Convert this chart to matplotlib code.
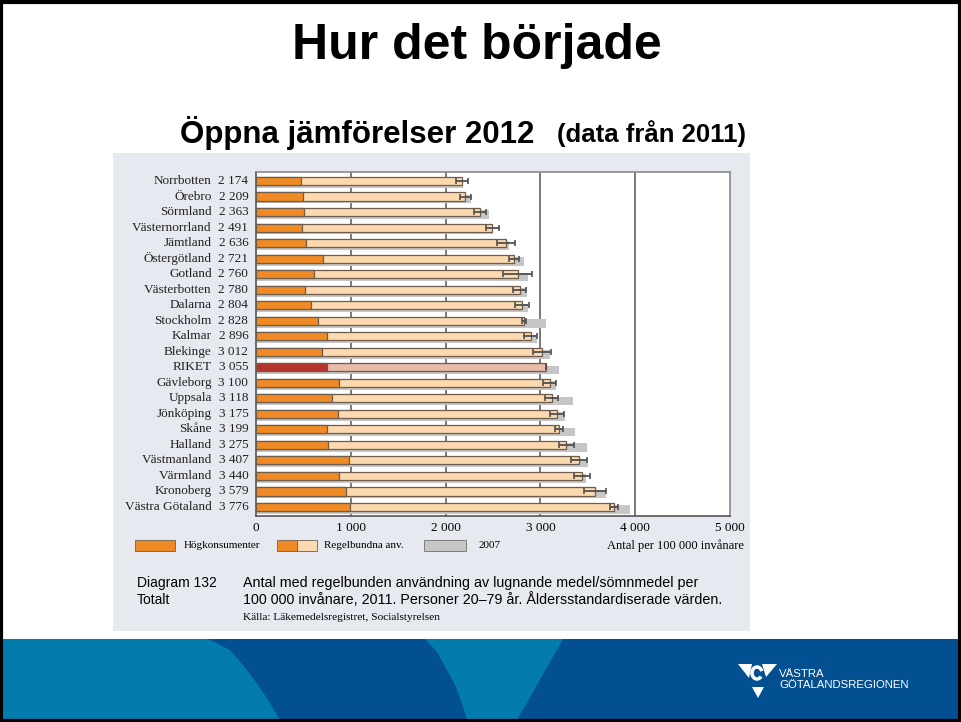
import numpy as np
import matplotlib
matplotlib.use('Agg')
import matplotlib.pyplot as plt
from matplotlib.patches import Rectangle, Polygon
from matplotlib.transforms import blended_transform_factory

# data (per 100 000 inhabitants)
regions = ['Norrbotten', 'Örebro', 'Sörmland', 'Västernorrland', 'Jämtland',
           'Östergötland', 'Gotland', 'Västerbotten', 'Dalarna', 'Stockholm',
           'Kalmar', 'Blekinge', 'RIKET', 'Gävleborg', 'Uppsala', 'Jönköping',
           'Skåne', 'Halland', 'Västmanland', 'Värmland', 'Kronoberg',
           'Västra Götaland']
regular = [2174, 2209, 2363, 2491, 2636, 2721, 2760, 2780, 2804, 2828, 2896,
           3012, 3055, 3100, 3118, 3175, 3199, 3275, 3407, 3440, 3579, 3776]
heavy = [469, 490, 504, 486, 525, 701, 609, 518, 574, 655, 743,
         690, 743, 877, 799, 859, 750, 760, 982, 870, 947, 989]
year2007 = [2186, 2267, 2461, 2503, 2672, 2827, 2866, 2855, 2872, 3056, 2961,
            3101, 3196, 3165, 3341, 3260, 3366, 3489, 3506, 3482, 3693, 3946]
ci = [60, 60, 60, 70, 95, 55, 150, 65, 75, 25, 70,
      95, 0, 70, 70, 70, 40, 75, 88, 80, 115, 40]
xticks = [0, 1000, 2000, 3000, 4000, 5000]

W, H = 962, 722
SERIF = 'Liberation Serif'
SANS = 'Liberation Sans'

fig = plt.figure(figsize=(W / 100, H / 100), dpi=100)
fig.patch.set_facecolor('white')

# background layer in pixel coordinates
bg = fig.add_axes([0, 0, 1, 1])
bg.set_xlim(0, W)
bg.set_ylim(H, 0)
bg.axis('off')

# blue band at the bottom of the slide
bg.add_patch(Rectangle((0, 639), W, 82, color='#024f92', lw=0))
bg.add_patch(Polygon([(0, 639), (208, 639), (230, 650), (247, 670), (260, 688),
                      (270, 703), (280, 720), (0, 720)], closed=True,
                     color='#047bad', lw=0))
bg.add_patch(Polygon([(425, 639), (563, 639), (517, 720), (467, 720), (462, 703),
                      (455, 685), (447, 670), (437, 652)], closed=True,
                     color='#047bad', lw=0))

# logo
bg.add_patch(Polygon([(738, 664), (752, 664), (749, 678)], closed=True, color='white', lw=0))
bg.add_patch(Polygon([(762, 664), (777, 664), (766, 677)], closed=True, color='white', lw=0))
bg.add_patch(Polygon([(752, 687), (764, 687), (758, 698)], closed=True, color='white', lw=0))
th = np.linspace(0.2 * np.pi, 1.9 * np.pi, 40)
bg.plot(757 + 5 * np.cos(th), 673 + 6 * np.sin(th), color='white', lw=2.5,
        solid_capstyle='butt')
bg.text(779, 674, 'VÄSTRA', color='white', fontsize=8.2, family=SANS,
        va='center', ha='left')
bg.text(779, 685, 'GÖTALANDSREGIONEN', color='white', fontsize=8.2, family=SANS,
        va='center', ha='left')

# slide border
bg.add_patch(Rectangle((1.5, 1.5), W - 3, H - 3, fill=False, ec='black', lw=3))

# titles
bg.text(477, 46, 'Hur det började', fontsize=36, weight='bold', family=SANS,
        ha='center', va='center')
bg.text(180, 133, 'Öppna jämförelser 2012', fontsize=22.5, weight='bold',
        family=SANS, ha='left', va='center')
bg.text(557, 134, '(data från 2011)', fontsize=18.5, weight='bold',
        family=SANS, ha='left', va='center')

# pasted figure background
bg.add_patch(Rectangle((113, 153), 637, 478, color='#e7e9f0', lw=0))

# legend row
bg.add_patch(Rectangle((135, 540), 40, 11, fc='#f08a24', ec='#6e5d4e', lw=0.6))
bg.text(184, 546, 'Högkonsumenter', fontsize=8, family=SERIF, va='center')
bg.add_patch(Rectangle((277, 540), 20, 11, fc='#f08a24', ec='#6e5d4e', lw=0.6))
bg.add_patch(Rectangle((297, 540), 20, 11, fc='#fcd9ae', ec='#6e5d4e', lw=0.6))
bg.text(324, 546, 'Regelbundna anv.', fontsize=8, family=SERIF, va='center')
bg.add_patch(Rectangle((424, 540), 42, 11, fc='#c6c6c6', ec='#6e6e6e', lw=0.6))
bg.text(479, 546, '2007', fontsize=8, family=SERIF, va='center')
bg.text(744, 546, 'Antal per 100 000 invånare', fontsize=9, family=SERIF,
        ha='right', va='center')

# caption
bg.text(137, 583, 'Diagram 132', fontsize=10, family=SANS, va='center')
bg.text(137, 600, 'Totalt', fontsize=10, family=SANS, va='center')
bg.text(243, 583, 'Antal med regelbunden användning av lugnande medel/sömnmedel per',
        fontsize=10.3, family=SANS, va='center')
bg.text(243, 600, '100 000 invånare, 2011. Personer 20–79 år. Åldersstandardiserade värden.',
        fontsize=10.3, family=SANS, va='center')
bg.text(243, 617, 'Källa: Läkemedelsregistret, Socialstyrelsen', fontsize=8.2,
        family=SERIF, va='center')

# chart
x0, x1, ytop, ybot = 256.3, 729.8, 172, 516
ax = fig.add_axes([x0 / W, 1 - ybot / H, (x1 - x0) / W, (ybot - ytop) / H])
ax.set_facecolor('white')
y = np.arange(len(regions))
light = ['#e9bba9' if r == 'RIKET' else '#fcd9ae' for r in regions]
dark = ['#b8332b' if r == 'RIKET' else '#f08a24' for r in regions]

for xv in xticks[1:-1]:
    ax.axvline(xv, color='#555555', lw=1.1, zorder=0)
ax.barh(y + 0.17, year2007, height=0.55, color='#c6c6c6', lw=0, zorder=1)
ax.barh(y, regular, height=0.52, color=light, edgecolor='#6e5d4e', lw=0.9, zorder=2)
ax.barh(y, heavy, height=0.52, color=dark, edgecolor='#6e5d4e', lw=0.9, zorder=3)
ax.errorbar(regular, y, xerr=ci, fmt='none', ecolor='#505050', elinewidth=1.3,
            capsize=2.5, capthick=1.2, zorder=4)

ax.set_xlim(0, 5000)
ax.set_ylim(len(regions) - 0.42, -0.58)
ax.set_xticks(xticks)
ax.set_xticklabels([f'{v:,}'.replace(',', ' ') for v in xticks],
                   family=SERIF, fontsize=9.5)
ax.tick_params(axis='x', length=0, pad=4)
ax.set_yticks([])
for side in ['top', 'right']:
    ax.spines[side].set_color('#8a8a8a')
    ax.spines[side].set_linewidth(1.2)
for side in ['left', 'bottom']:
    ax.spines[side].set_color('#555555')
    ax.spines[side].set_linewidth(1.2)

tr = blended_transform_factory(ax.transAxes, ax.transData)
for i, (name, val) in enumerate(zip(regions, regular)):
    ax.text(-0.094, i, name, transform=tr, ha='right', va='center',
            family=SERIF, fontsize=9.5, color='#222222')
    ax.text(-0.017, i, f'{val:,}'.replace(',', ' '), transform=tr, ha='right',
            va='center', family=SERIF, fontsize=9.5, color='#222222')

fig.savefig('out.png', dpi=100)
